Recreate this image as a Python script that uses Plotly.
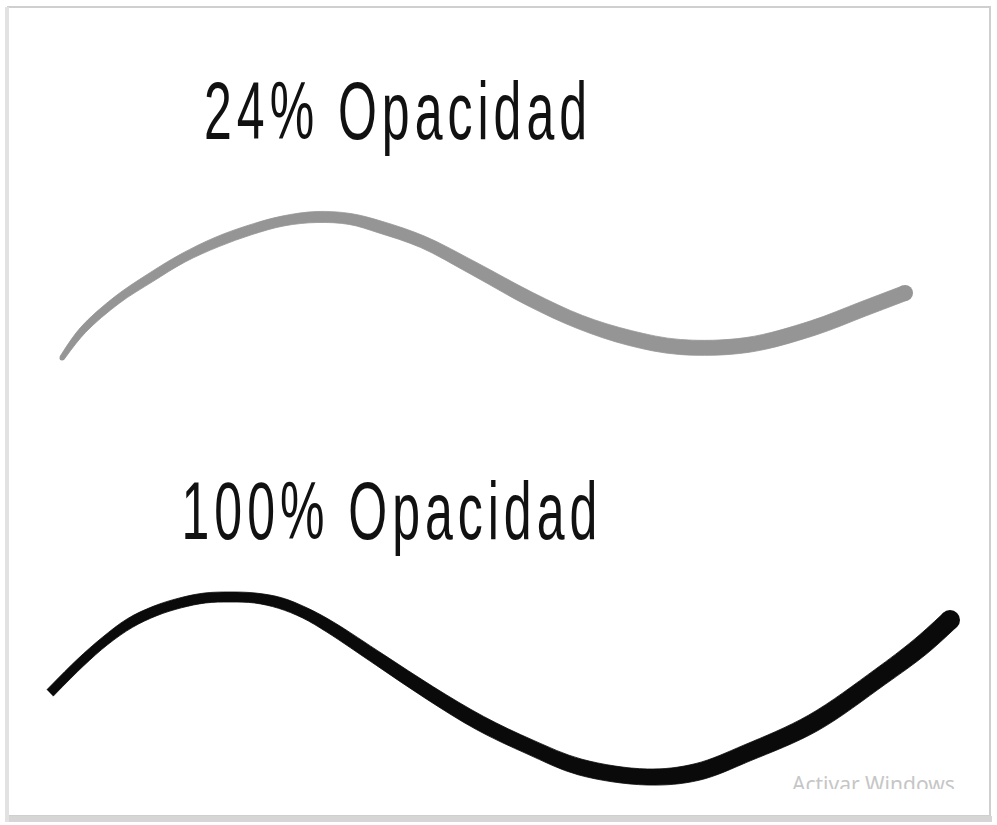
import numpy as np
import plotly.graph_objects as go

# ---- data (pixel space, y downward) ----
gray_x = [62, 83, 117, 150, 183, 217, 250, 283, 317, 350, 380, 423, 473, 530, 580, 630, 680, 747, 813, 863, 905]
gray_y = [358, 330, 300, 278, 258, 242, 230, 221, 217, 219, 227, 242, 268, 299, 322, 338, 347, 345, 328, 309, 293]
gray_w = [5, 7, 8, 9, 9, 10, 10, 10, 11, 11, 12, 12, 13, 14, 14, 15, 15, 15, 15, 15, 15]

black_x = [50, 80, 105, 130, 155, 180, 205, 230, 255, 280, 305, 330, 380, 430, 480, 530, 580, 647, 697, 747, 813, 880, 920, 950]
black_y = [693, 663, 641, 623, 611, 603, 598, 597, 598, 603, 613, 627, 660, 693, 723, 747, 767, 777, 772, 753, 723, 677, 647, 620]
black_w = [9, 9, 9, 10, 10, 10, 10, 10, 10, 11, 11, 12, 13, 14, 15, 15, 16, 16, 17, 17, 18, 18, 19, 19]

labels = ["24% Opacidad", "100% Opacidad"]
label_x = [398, 392]
label_y = [111, 511]
watermark = "Activar Windows"

GRAY = "#959595"
BLACK = "#0a0a0a"
FONT = "Liberation Sans Narrow, Liberation Sans, Arial, sans-serif"


def edges(xs, ys, ws):
    x = np.asarray(xs, float)
    y = np.asarray(ys, float)
    w = np.asarray(ws, float) / 2.0
    dx = np.gradient(x)
    dy = np.gradient(y)
    n = np.hypot(dx, dy)
    nx, ny = -dy / n, dx / n
    return (x + nx * w, y + ny * w), (x - nx * w, y - ny * w)


fig = go.Figure()

for xs, ys, ws, col in [(gray_x, gray_y, gray_w, GRAY), (black_x, black_y, black_w, BLACK)]:
    (tx, ty), (bx, by) = edges(xs, ys, ws)
    fig.add_trace(go.Scatter(x=tx, y=ty, mode="lines",
                             line=dict(color=col, width=0.8, shape="spline", smoothing=1.0),
                             hoverinfo="skip"))
    fig.add_trace(go.Scatter(x=bx, y=by, mode="lines", fill="tonexty", fillcolor=col,
                             line=dict(color=col, width=0.8, shape="spline", smoothing=1.0),
                             hoverinfo="skip"))
    fig.add_trace(go.Scatter(x=[xs[-1]], y=[ys[-1]], mode="markers",
                             marker=dict(size=ws[-1] + 1, color=col, line=dict(width=0)),
                             hoverinfo="skip"))

fig.add_trace(go.Scatter(x=[gray_x[0]], y=[gray_y[0]], mode="markers",
                         marker=dict(size=gray_w[0], color=GRAY, line=dict(width=0)), hoverinfo="skip"))

# watermark (clipped at bottom by a white band drawn above)
fig.add_trace(go.Scatter(x=[792], y=[787], mode="text", text=[watermark], textposition="middle right",
                         textfont=dict(family="Noto Sans, Open Sans, sans-serif", size=21, color="#c6c6c6"),
                         hoverinfo="skip"))

for t, x0, y0 in zip(labels, label_x, label_y):
    fig.add_annotation(x=x0, y=y0, text=t, showarrow=False, xanchor="center", yanchor="middle",
                       xref="x", yref="y", font=dict(family=FONT, size=50, color="#111111"))

shapes = [
    dict(type="rect", xref="x", yref="y", x0=760, x1=988, y0=789, y1=814, fillcolor="white",
         line=dict(width=0), layer="above"),
    dict(type="rect", xref="x", yref="y", x0=8, x1=990, y0=7, y1=816, fillcolor="rgba(0,0,0,0)",
         line=dict(color="#cfcfcf", width=2), layer="above"),
    dict(type="rect", xref="x", yref="y", x0=8, x1=992, y0=816, y1=822, fillcolor="#d6d6d6",
         line=dict(width=0), layer="above"),
    dict(type="rect", xref="x", yref="y", x0=5, x1=9, y0=7, y1=822, fillcolor="#e2e2e2",
         line=dict(width=0), layer="above"),
]

fig.update_layout(
    width=997, height=825, margin=dict(l=0, r=0, t=0, b=0),
    paper_bgcolor="white", plot_bgcolor="white", showlegend=False,
    shapes=shapes,
    xaxis=dict(range=[0, 997], visible=False, fixedrange=True),
    yaxis=dict(range=[825, 0], visible=False, fixedrange=True),
)

post = """
document.body.style.margin = '0';
function tallText(){
  document.querySelectorAll('text.annotation-text').forEach(function(e){
    e.style.letterSpacing = '5px';
    e.style.transformBox = 'fill-box';
    e.style.transformOrigin = '50% 50%';
    e.style.transform = 'scaleY(1.62)';
  });
}
tallText();
setTimeout(tallText, 50);
setTimeout(tallText, 300);
"""

fig.write_html("out.html", post_script=post, config={"displayModeBar": False, "staticPlot": True})
